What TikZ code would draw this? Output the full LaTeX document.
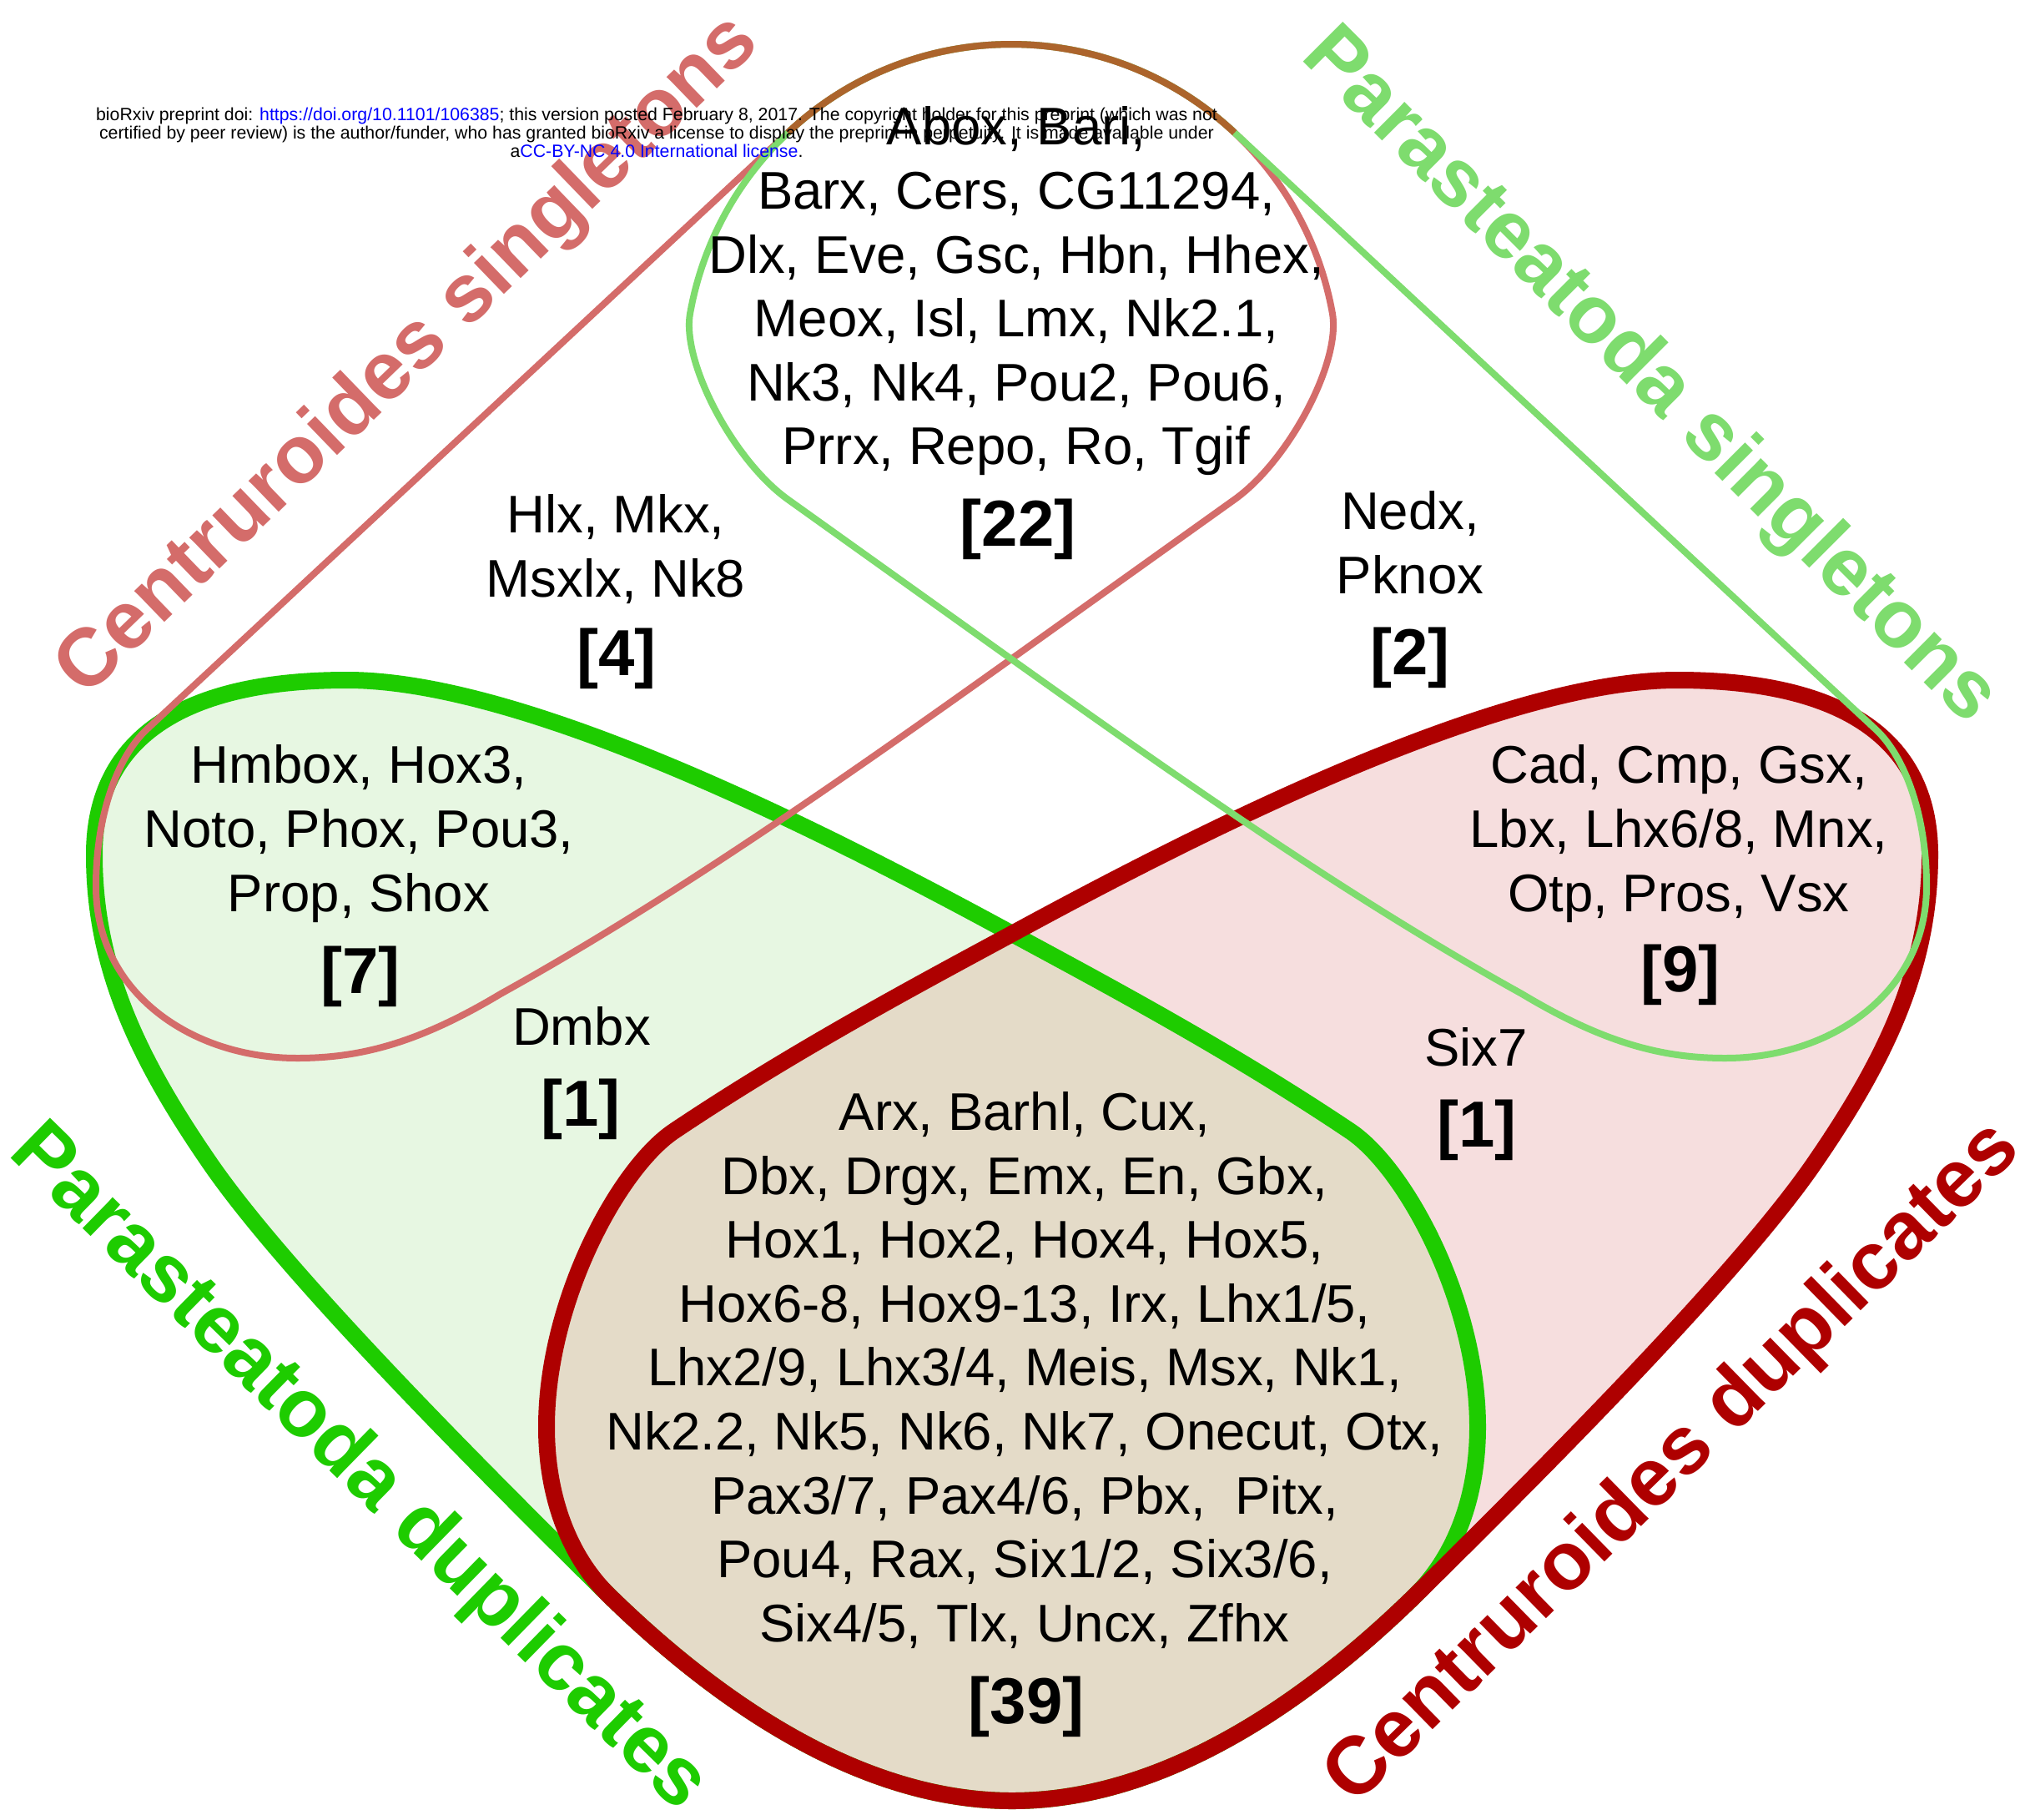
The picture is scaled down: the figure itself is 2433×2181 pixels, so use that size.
\documentclass[tikz,border=0pt]{standalone}
\usepackage{fontspec}
\setmainfont{Liberation Sans}
\definecolor{thinred}{RGB}{212,108,106}
\definecolor{thingreen}{RGB}{126,220,110}
\definecolor{thickgreen}{RGB}{30,204,0}
\definecolor{thickred}{RGB}{174,0,0}
\definecolor{fillgreen}{RGB}{231,247,226}
\definecolor{fillpink}{RGB}{246,222,222}
\definecolor{fillbeige}{RGB}{228,219,200}
\definecolor{toparc}{RGB}{172,100,44}
\definecolor{linkblue}{RGB}{0,0,255}
\def\pathA{(176,874) -- (944.3,159) arc[start angle=-133.2,end angle=-10,radius=391] .. controls (1607,435) and (1544,553) .. (1479,599) -- (1213,789) .. controls (1000,941) and (800,1080) .. (600,1191) .. controls (500,1251) and (430,1268) .. (356,1268) .. controls (230,1268) and (115,1190) .. (115,1062) .. controls (115,980) and (139.5,908) .. (176,874) -- cycle}
\def\pathB{(2248,874) -- (1479.7,159) arc[start angle=-46.8,end angle=-170,radius=391] .. controls (817,435) and (880,553) .. (945,599) -- (1211,789) .. controls (1424,941) and (1624,1080) .. (1824,1191) .. controls (1924,1251) and (1994,1268) .. (2068,1268) .. controls (2194,1268) and (2309,1190) .. (2309,1062) .. controls (2309,980) and (2284.5,908) .. (2248,874) -- cycle}
\def\pathD{(2010,815) .. controls (2200,815) and (2313,880) .. (2313,1024) .. controls (2313,1160) and (2260,1270) .. (2173,1396) .. controls (2080,1530) and (1850,1760) .. (1696,1912) .. controls (1560,2045) and (1390,2158) .. (1213,2158) .. controls (1036,2158) and (866,2045) .. (730,1912) .. controls (680,1863) and (655,1790) .. (655,1710) .. controls (655,1560) and (741,1401) .. (807,1356) .. controls (950,1260) and (1100,1180) .. (1213,1119) .. controls (1450,990) and (1800,815) .. (2010,815) -- cycle}
\def\pathC{(416,815) .. controls (226,815) and (113,880) .. (113,1024) .. controls (113,1160) and (166,1270) .. (253,1396) .. controls (346,1530) and (576,1760) .. (730,1912) .. controls (866,2045) and (1036,2158) .. (1213,2158) .. controls (1390,2158) and (1560,2045) .. (1696,1912) .. controls (1746,1863) and (1771,1790) .. (1771,1710) .. controls (1771,1560) and (1685,1401) .. (1619,1356) .. controls (1476,1260) and (1326,1180) .. (1213,1119) .. controls (976,990) and (626,815) .. (416,815) -- cycle}
\begin{document}
\begin{tikzpicture}[x=1pt,y=-1pt,
  thinA/.style={draw=thinred,line width=8pt,line join=round},
  thinB/.style={draw=thingreen,line width=8pt,line join=round},
  thickC/.style={draw=thickgreen,line width=20pt,line join=round},
  thickD/.style={draw=thickred,line width=20pt,line join=round},
  lst/.style={font=\fontsize{63.5pt}{76.6pt}\selectfont,align=center,inner sep=0pt},
  cnt/.style={font=\fontsize{78pt}{90pt}\selectfont\bfseries,inner sep=0pt},
  setlabel/.style={font=\fontsize{98pt}{110pt}\selectfont\bfseries,inner sep=0pt},
  header/.style={font=\fontsize{21.3pt}{22pt}\selectfont,align=center,inner sep=0pt}]
\useasboundingbox (0,0) rectangle (2433,2181);
\fill[white] (0,0) rectangle (2433,2181);
% fills
\fill[fillgreen] \pathC;
\fill[fillpink] \pathD;
\begin{scope}
  \clip \pathC;
  \fill[fillbeige] \pathD;
\end{scope}
% outlines
\draw[thickC] \pathC;
\draw[thickD] \pathD;
\draw[thinA] \pathA;
\draw[thinB] \pathB;
\draw[draw=toparc,line width=8pt] (944.3,159) arc[start angle=-133.2,end angle=-46.8,radius=391];
% set labels
\node[setlabel,text=thinred,rotate=44] (labCS) at (490,428) {Centruroides singletons};
\node[setlabel,text=thingreen,rotate=-45] (labPS) at (1976,452) {Parasteatoda singletons};
\node[setlabel,text=thickgreen,rotate=-44.4] (labPD) at (429,1760) {Parasteatoda duplicates};
\node[setlabel,text=thickred,rotate=44.4] (labCD) at (2006,1755) {Centruroides duplicates};
% region contents
\node[lst] (topset) at (1218,349) {Abox, Bari,\\Barx, Cers, CG11294,\\Dlx, Eve, Gsc, Hbn, Hhex,\\Meox, Isl, Lmx, Nk2.1,\\Nk3, Nk4, Pou2, Pou6,\\Prrx, Repo, Ro, Tgif};
\node[cnt] (topn) at (1220,634) {[22]};
\node[lst] (csset) at (738,658) {Hlx, Mkx,\\Msxlx, Nk8};
\node[cnt] (csn) at (739,789) {[4]};
\node[lst] (psset) at (1690,650) {Nedx,\\Pknox};
\node[cnt] (psn) at (1690,788) {[2]};
\node[lst] (leftset) at (430,999) {Hmbox, Hox3,\\Noto, Phox, Pou3,\\Prop, Shox};
\node[cnt] (leftn) at (432,1170) {[7]};
\node[lst] (rightset) at (2012,999) {Cad, Cmp, Gsx,\\Lbx, Lhx6/8, Mnx,\\Otp, Pros, Vsx};
\node[cnt] (rightn) at (2014,1168) {[9]};
\node[lst] (pdset) at (697,1230) {Dmbx};
\node[cnt] (pdn) at (696,1329) {[1]};
\node[lst] (cdset) at (1769,1255) {Six7};
\node[cnt] (cdn) at (1770,1354) {[1]};
\node[lst] (botset) at (1228,1642) {Arx, Barhl, Cux,\\Dbx, Drgx, Emx, En, Gbx,\\Hox1, Hox2, Hox4, Hox5,\\Hox6-8, Hox9-13, Irx, Lhx1/5,\\Lhx2/9, Lhx3/4, Meis, Msx, Nk1,\\Nk2.2, Nk5, Nk6, Nk7, Onecut, Otx,\\Pax3/7, Pax4/6, Pbx,~\ Pitx,\\Pou4, Rax, Six1/2, Six3/6,\\Six4/5, Tlx, Uncx, Zfhx};
\node[cnt] (botn) at (1230,2045) {[39]};
% preprint header
\node[header] (hdr) at (787,159) {bioRxiv preprint doi: \textcolor{linkblue}{https://doi.org/10.1101/106385}; this version posted February 8, 2017. The copyright holder for this preprint (which was not\\certified by peer review) is the author/funder, who has granted bioRxiv a license to display the preprint in perpetuity. It is made available under\\a\textcolor{linkblue}{CC-BY-NC 4.0 International license}.};
\end{tikzpicture}
\end{document}
